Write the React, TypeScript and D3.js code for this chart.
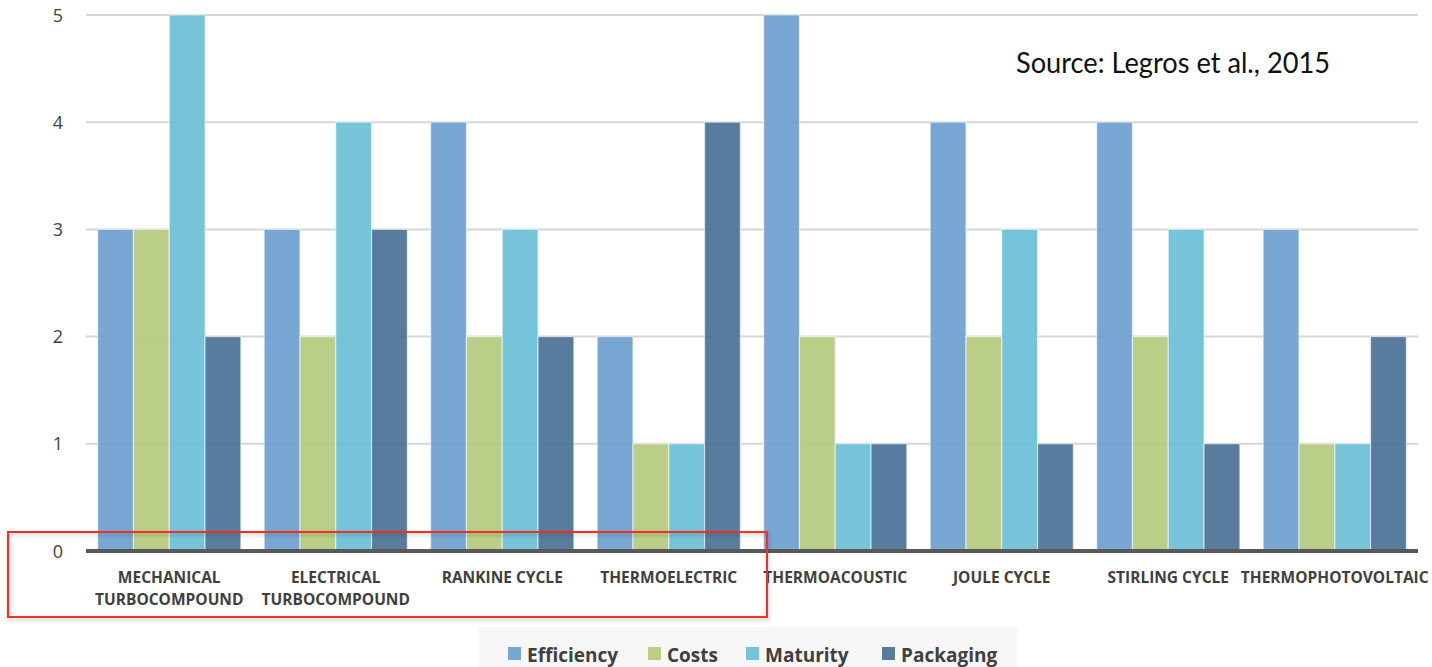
import React from "react";
import * as d3 from "d3";

const categories = [
  ["MECHANICAL", "TURBOCOMPOUND"],
  ["ELECTRICAL", "TURBOCOMPOUND"],
  ["RANKINE CYCLE"],
  ["THERMOELECTRIC"],
  ["THERMOACOUSTIC"],
  ["JOULE CYCLE"],
  ["STIRLING CYCLE"],
  ["THERMOPHOTOVOLTAIC"],
];
const seriesNames = ["Efficiency", "Costs", "Maturity", "Packaging"];
const seriesColors = ["#6d9fcf", "#b5ca7d", "#69bfd6", "#4a7196"];
const efficiency = [3, 3, 4, 2, 5, 4, 4, 3];
const costs = [3, 2, 2, 1, 2, 2, 2, 1];
const maturity = [5, 4, 3, 1, 1, 3, 3, 1];
const packaging = [2, 3, 2, 4, 1, 1, 1, 2];
const yTicks = [0, 1, 2, 3, 4, 5];
const sourceNote = "Source: Legros et al., 2015";

const W = 1432;
const H = 667;

export default function App() {
  const seriesValues = [efficiency, costs, maturity, packaging];
  const keys = categories.map((c) => c.join(" "));

  const x0 = d3
    .scaleBand<string>()
    .domain(keys)
    .range([86, 1418])
    .paddingInner(0.14)
    .paddingOuter(0.07);
  const x1 = d3
    .scaleBand<string>()
    .domain(seriesNames)
    .range([0, x0.bandwidth()]);
  const y = d3.scaleLinear().domain([0, 5]).range([551, 15]);

  const font = "'Open Sans', 'DejaVu Sans', sans-serif";
  const legendX = [508, 648, 746, 882];

  return (
    <svg
      width={W}
      height={H}
      viewBox={`0 0 ${W} ${H}`}
      style={{ position: "absolute", left: 0, top: 0, background: "#fff" }}
    >
      <defs>
        <filter id="boxShadow" x="-5%" y="-20%" width="110%" height="140%">
          <feDropShadow dx="1" dy="2" stdDeviation="2" floodColor="#000" floodOpacity="0.25" />
        </filter>
      </defs>

      {/* horizontal gridlines */}
      {yTicks
        .filter((t) => t > 0)
        .map((t) => (
          <line
            key={`g${t}`}
            x1={86}
            x2={1418}
            y1={y(t)}
            y2={y(t)}
            stroke="#d6d6d6"
            strokeWidth={2}
          />
        ))}

      {/* y tick labels */}
      {yTicks.map((t) => (
        <text
          key={`t${t}`}
          x={58}
          y={y(t) + 6.5}
          textAnchor="middle"
          fontFamily={font}
          fontSize={18}
          fill="#404040"
        >
          {t}
        </text>
      ))}

      {/* grouped bars */}
      {keys.map((k, ci) => (
        <g key={k} transform={`translate(${x0(k)},0)`}>
          {seriesNames.map((s, si) => {
            const v = seriesValues[si][ci];
            return (
              <rect
                key={s}
                x={x1(s)}
                y={y(v)}
                width={x1.bandwidth()}
                height={y(0) - y(v)}
                fill={seriesColors[si]}
                fillOpacity={0.92}
                stroke="#ffffff"
                strokeOpacity={0.55}
                strokeWidth={1.2}
              />
            );
          })}
        </g>
      ))}

      {/* baseline */}
      <line x1={86} x2={1418} y1={y(0)} y2={y(0)} stroke="#595959" strokeWidth={4} />

      {/* category labels */}
      {categories.map((lines, ci) => {
        const cx = (x0(keys[ci]) ?? 0) + x0.bandwidth() / 2;
        return (
          <text
            key={`c${ci}`}
            x={cx}
            textAnchor="middle"
            fontFamily={font}
            fontWeight={700}
            fontSize={15.5}
            fill="#404040"
          >
            {lines.map((ln, li) => (
              <tspan key={li} x={cx} y={583 + li * 22}>
                {ln}
              </tspan>
            ))}
          </text>
        );
      })}

      {/* source note */}
      <text
        x={1016}
        y={73}
        fontFamily="Lato, 'Open Sans', sans-serif"
        fontSize={29}
        fill="#111"
        textLength={314}
        lengthAdjust="spacingAndGlyphs"
      >
        {sourceNote}
      </text>

      {/* highlight box */}
      <rect
        x={8}
        y={532}
        width={759}
        height={85}
        fill="none"
        stroke="#ee3322"
        strokeWidth={2}
        filter="url(#boxShadow)"
      />

      {/* legend */}
      <rect x={479} y={627} width={538} height={40} fill="#f7f7f7" />
      {seriesNames.map((s, si) => (
        <g key={`l${s}`}>
          <rect x={legendX[si]} y={647} width={13} height={13} fill={seriesColors[si]} fillOpacity={0.92} />
          <text
            x={legendX[si] + 19}
            y={662}
            fontFamily={font}
            fontWeight={700}
            fontSize={19}
            fill="#404040"
          >
            {s}
          </text>
        </g>
      ))}
    </svg>
  );
}
